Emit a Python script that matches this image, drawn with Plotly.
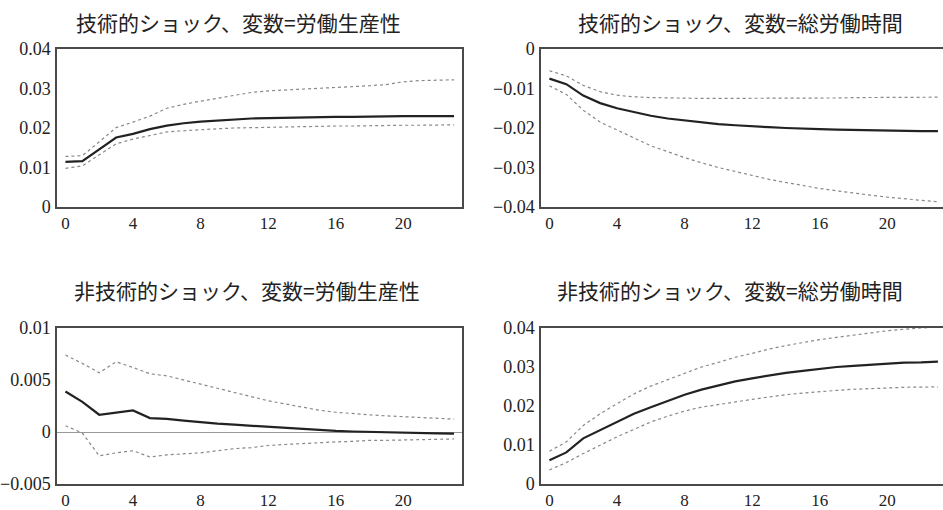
import plotly.graph_objects as go

periods = list(range(24))

titles = [
    "技術的ショック、変数=労働生産性",
    "技術的ショック、変数=総労働時間",
    "非技術的ショック、変数=労働生産性",
    "非技術的ショック、変数=総労働時間",
]

# Technology shock -> labour productivity
tp_mid = [0.0114, 0.0116, 0.0146, 0.0176, 0.0185, 0.0197, 0.0206, 0.0212, 0.0216, 0.0219, 0.0222, 0.0224,
          0.0225, 0.0226, 0.0227, 0.0227, 0.0228, 0.0228, 0.0229, 0.0229, 0.0230, 0.0230, 0.0230, 0.0230]
tp_up = [0.0128, 0.0130, 0.0165, 0.0201, 0.0215, 0.0230, 0.0250, 0.0260, 0.0268, 0.0275, 0.0282, 0.0290,
         0.0294, 0.0296, 0.0298, 0.0300, 0.0302, 0.0304, 0.0307, 0.0310, 0.0317, 0.0320, 0.0321, 0.0322]
tp_lo = [0.0098, 0.0104, 0.0132, 0.0160, 0.0172, 0.0181, 0.0190, 0.0193, 0.0196, 0.0198, 0.0200, 0.0201,
         0.0202, 0.0203, 0.0204, 0.0204, 0.0205, 0.0205, 0.0206, 0.0206, 0.0207, 0.0207, 0.0208, 0.0208]

# Technology shock -> total hours
th_mid = [-0.0075, -0.0089, -0.0118, -0.0137, -0.0150, -0.0160, -0.0169, -0.0176, -0.0181, -0.0186, -0.0190, -0.0193,
          -0.0196, -0.0198, -0.0200, -0.0202, -0.0203, -0.0204, -0.0205, -0.0206, -0.0207, -0.0207, -0.0208, -0.0208]
th_up = [-0.0055, -0.0068, -0.0092, -0.0108, -0.0117, -0.0121, -0.0123, -0.0124, -0.0125, -0.0125, -0.0125, -0.0125,
         -0.0125, -0.0125, -0.0125, -0.0124, -0.0124, -0.0124, -0.0123, -0.0123, -0.0123, -0.0122, -0.0122, -0.0122]
th_lo = [-0.0093, -0.0115, -0.0155, -0.0185, -0.0205, -0.0225, -0.0245, -0.0260, -0.0275, -0.0288, -0.0300, -0.0310,
         -0.0320, -0.0330, -0.0338, -0.0346, -0.0353, -0.0359, -0.0365, -0.0370, -0.0375, -0.0379, -0.0383, -0.0387]

# Non-technology shock -> labour productivity
np_mid = [0.00389, 0.0029, 0.00166, 0.0019, 0.00207, 0.00134, 0.00127, 0.0011, 0.00092, 0.0008, 0.0007, 0.0006,
          0.00048, 0.00038, 0.00025, 0.00019, 0.0001, 0.00005, 0.0, -0.00003, -0.00007, -0.0001, -0.00013, -0.00016]
np_up = [0.0074, 0.0066, 0.0057, 0.00675, 0.0062, 0.0056, 0.0054, 0.0050, 0.0046, 0.0042, 0.0038, 0.0034,
         0.0030, 0.0027, 0.0024, 0.0021, 0.0019, 0.00175, 0.00165, 0.00155, 0.00146, 0.00137, 0.0013, 0.00124]
np_lo = [0.0006, -0.0001, -0.0023, -0.0020, -0.0018, -0.0024, -0.0022, -0.0021, -0.0020, -0.0018, -0.0016, -0.0015,
         -0.0013, -0.0012, -0.0011, -0.0010, -0.00095, -0.0009, -0.0008, -0.0008, -0.00076, -0.00073, -0.0007, -0.00067]

# Non-technology shock -> total hours
nh_mid = [0.0061, 0.0081, 0.0117, 0.0138, 0.0159, 0.0180, 0.0197, 0.0214, 0.0229, 0.0242, 0.0253, 0.0263,
          0.0271, 0.0278, 0.0285, 0.0290, 0.0295, 0.0300, 0.0303, 0.0306, 0.0309, 0.0311, 0.0312, 0.0314]
nh_up = [0.0084, 0.0108, 0.0150, 0.0180, 0.0206, 0.0231, 0.0251, 0.0268, 0.0285, 0.0300, 0.0312, 0.0325,
         0.0335, 0.0346, 0.0355, 0.0363, 0.0370, 0.0376, 0.0382, 0.0387, 0.0393, 0.0397, 0.0400, 0.0403]
nh_lo = [0.0036, 0.0055, 0.0078, 0.0100, 0.0121, 0.0140, 0.0159, 0.0174, 0.0187, 0.0197, 0.0204, 0.0210,
         0.0217, 0.0223, 0.0229, 0.0233, 0.0237, 0.0240, 0.0243, 0.0244, 0.0246, 0.0248, 0.0248, 0.0249]

x_ticks = [0, 4, 8, 12, 16, 20]

panels = [
    dict(mid=tp_mid, up=tp_up, lo=tp_lo, yr=[0, 0.04], dt=0.01, zl=False),
    dict(mid=th_mid, up=th_up, lo=th_lo, yr=[-0.04, 0], dt=0.01, zl=False),
    dict(mid=np_mid, up=np_up, lo=np_lo, yr=[-0.005, 0.01], dt=0.005, zl=True),
    dict(mid=nh_mid, up=nh_up, lo=nh_lo, yr=[0, 0.04], dt=0.01, zl=False),
]

W, H = 943, 510
xdoms = [[57 / W, 462 / W], [541 / W, 1.0], [57 / W, 462 / W], [541 / W, 1.0]]
xranges = [[-0.5, 23.47], [-0.5, 23.3], [-0.5, 23.47], [-0.5, 23.3]]
ydoms = [[1 - 207 / H, 1 - 49 / H], [1 - 207 / H, 1 - 49 / H],
         [1 - 484 / H, 1 - 328 / H], [1 - 484 / H, 1 - 328 / H]]
title_pos = [(238, 22), (740, 22), (247, 290), (730, 290)]

fig = go.Figure()
layout = dict(
    template="none",
    width=W, height=H, margin=dict(l=0, r=0, t=0, b=0, pad=0, autoexpand=False),
    paper_bgcolor="white", plot_bgcolor="white", showlegend=False,
    annotations=[],
)

ytick_font = dict(family="Liberation Serif", size=18, color="#222")
xtick_font = dict(family="Liberation Serif", size=17, color="#222")
axis_col = "#4a4a4a"

for i, p in enumerate(panels):
    xa = "x" if i == 0 else f"x{i+1}"
    ya = "y" if i == 0 else f"y{i+1}"
    for key, dash, col, w in [("up", "dot", "#888", 1.2), ("lo", "dot", "#888", 1.2), ("mid", "solid", "#222", 2.2)]:
        fig.add_trace(go.Scatter(x=periods, y=p[key], mode="lines", xaxis=xa, yaxis=ya,
                                 line=dict(color=col, width=w, dash=dash), hoverinfo="skip"))
    right = i in (1, 3)
    layout["xaxis" if i == 0 else f"xaxis{i+1}"] = dict(
        domain=xdoms[i], range=xranges[i], anchor=ya, tickvals=x_ticks, automargin=False,
        showgrid=False, zeroline=False, showline=True, linecolor=axis_col, linewidth=1.5,
        mirror=True, ticks="", tickfont=xtick_font, ticklabelstandoff=0,
    )
    layout["yaxis" if i == 0 else f"yaxis{i+1}"] = dict(
        domain=ydoms[i], range=p["yr"], anchor=xa, dtick=p["dt"], tick0=0, automargin=False,
        showgrid=False, zeroline=p["zl"], zerolinecolor="#999", zerolinewidth=1,
        showline=True, linecolor=axis_col, linewidth=1.5,
        mirror=(not right), ticks="", tickfont=ytick_font, ticklabelstandoff=1,
    )
    tx, ty = title_pos[i]
    layout["annotations"].append(dict(
        text=titles[i], x=tx / W, y=1 - ty / H, xref="paper", yref="paper",
        xanchor="center", yanchor="middle", showarrow=False,
        font=dict(family="Noto Sans CJK JP", size=21, color="#222"),
    ))

fig.update_layout(**layout)
fig.write_html("out.html", config={"displayModeBar": False},
               post_script="document.body.style.margin='0';document.body.style.overflow='hidden';")
